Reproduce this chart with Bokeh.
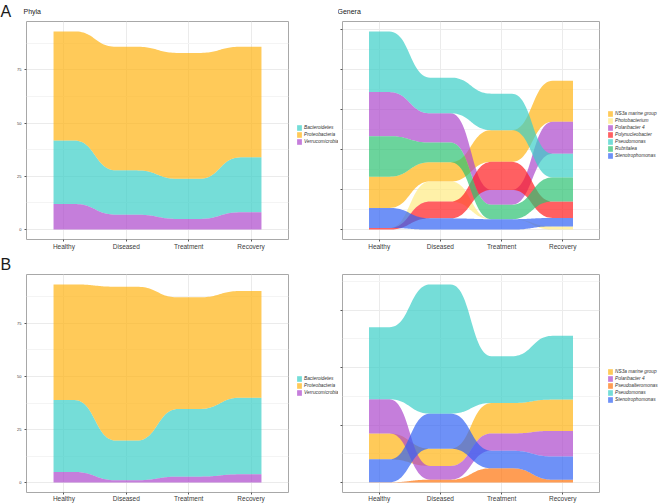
import numpy as np
from bokeh.plotting import figure
from bokeh.models import (Legend, LegendItem, FixedTicker, Range1d, CustomLabelingPolicy)
from bokeh.layouts import row, column
from bokeh.embed import file_html
from bokeh.resources import INLINE

# ---------------- data ----------------
stages = ["Healthy", "Diseased", "Treatment", "Recovery"]

phyla = ["Bacteroidetes", "Proteobacteria", "Verrucomicrobia"]
phyla_stack = ["Verrucomicrobia", "Bacteroidetes", "Proteobacteria"]  # bottom -> top

a_bacteroidetes = [29.8, 20.8, 18.8, 25.8]
a_proteobacteria = [51.2, 58.0, 59.1, 51.9]
a_verrucomicrobia = [12.0, 7.0, 5.0, 8.1]

b_bacteroidetes = [33.9, 18.7, 31.9, 36.1]
b_proteobacteria = [54.5, 72.5, 52.6, 50.3]
b_verrucomicrobia = [5.0, 1.1, 2.8, 3.9]

genera_a = ["NS3a marine group", "Photobacterium", "Polaribacter 4", "Polynucleobacter",
            "Pseudomonas", "Rubritalea", "Stenotrophomonas"]
a_ns3a = [7.8, 4.8, 7.9, 10.2]
a_photobacterium = [0.0, 5.0, 0.0, 0.8]
a_polaribacter = [11.0, 7.3, 3.7, 8.0]
a_polynucleobacter = [0.4, 4.2, 7.0, 4.1]
a_pseudomonas = [15.1, 8.9, 9.1, 5.9]
a_rubritalea = [10.1, 4.9, 3.6, 6.0]
a_stenotrophomonas = [5.0, 2.8, 2.6, 2.1]
a_order = [  # bottom -> top, per stage
    ["Polynucleobacter", "Photobacterium", "Stenotrophomonas", "NS3a marine group", "Rubritalea", "Polaribacter 4", "Pseudomonas"],
    ["Stenotrophomonas", "Polynucleobacter", "Photobacterium", "NS3a marine group", "Rubritalea", "Polaribacter 4", "Pseudomonas"],
    ["Stenotrophomonas", "Photobacterium", "Rubritalea", "Polaribacter 4", "Polynucleobacter", "NS3a marine group", "Pseudomonas"],
    ["Photobacterium", "Stenotrophomonas", "Polynucleobacter", "Rubritalea", "Pseudomonas", "Polaribacter 4", "NS3a marine group"],
]

genera_b = ["NS3a marine group", "Polaribacter 4", "Pseudoalteromonas", "Pseudomonas", "Stenotrophomonas"]
b_ns3a = [9.0, 6.0, 10.6, 10.9]
b_polaribacter = [11.9, 4.8, 6.0, 8.9]
b_pseudoalteromonas = [0.1, 1.0, 5.0, 1.0]
b_pseudomonas = [25.1, 45.0, 16.3, 22.2]
b_stenotrophomonas = [8.0, 12.2, 6.1, 8.1]
b_order = [
    ["Pseudoalteromonas", "Stenotrophomonas", "NS3a marine group", "Polaribacter 4", "Pseudomonas"],
    ["Pseudoalteromonas", "Polaribacter 4", "NS3a marine group", "Stenotrophomonas", "Pseudomonas"],
    ["Pseudoalteromonas", "Stenotrophomonas", "Polaribacter 4", "NS3a marine group", "Pseudomonas"],
    ["Pseudoalteromonas", "Stenotrophomonas", "Polaribacter 4", "NS3a marine group", "Pseudomonas"],
]

colors = {
    "Bacteroidetes": "#3BCEC7", "Proteobacteria": "#FFB313", "Verrucomicrobia": "#AC47CC",
    "NS3a marine group": "#FFB313", "Photobacterium": "#FFEB83", "Polaribacter 4": "#AC47CC",
    "Polynucleobacter": "#FF1D20", "Pseudomonas": "#3BCEC7", "Rubritalea": "#2CC272",
    "Stenotrophomonas": "#3063F4", "Pseudoalteromonas": "#FF740C",
}
ALPHA = 0.7
FONT = "Liberation Sans"
HW = 1 / 6  # half width of the stratum


def stack_from_order(values, order):
    lo = {k: [0.0] * 4 for k in values}
    hi = {k: [0.0] * 4 for k in values}
    for i in range(4):
        base = 0.0
        for k in order[i]:
            lo[k][i] = base
            base += values[k][i]
            hi[k][i] = base
    return lo, hi


def edge(ys):
    xs_out, ys_out = [], []
    t = np.linspace(0, 1, 30)[1:-1]
    for i in range(4):
        x = i + 1
        xs_out += [x - HW, x + HW]
        ys_out += [ys[i], ys[i]]
        if i < 3:
            x0, x1 = x + HW, x + 1 - HW
            d = x1 - x0
            xs_out += list(x0 + d * (1.5 * t * (1 - t) + t ** 3))
            ys_out += list(ys[i] + (ys[i + 1] - ys[i]) * (3 * t ** 2 - 2 * t ** 3))
    return xs_out, ys_out


def band(lo, hi):
    tx, ty = edge(hi)
    bx, by = edge(lo)
    return tx + bx[::-1], ty + by[::-1]


HIDE = CustomLabelingPolicy(code="for (const i of indices) { indices.unset(i) } return indices")


def style_title(p, text, size, offset, standoff):
    p.title.text = text
    p.title.align = "left"
    p.title.offset = offset
    p.title.standoff = standoff
    p.title.vertical_align = "top"
    p.title.text_font = FONT
    p.title.text_font_size = size
    p.title.text_font_style = "normal"
    p.title.text_color = "#1A1A1A"


def make_fig(width, height, fl, ft, fw, fh, yr, yticks, yminor, ylabels, xstandoff,
             title=None, toffset=0):
    p = figure(width=width, height=height, x_range=Range1d(0.4, 4.6), y_range=Range1d(*yr),
               output_backend="svg", toolbar_location=None,
               min_border_left=fl, min_border_top=ft,
               min_border_right=width - fl - fw, min_border_bottom=height - ft - fh)
    if title is not None:
        style_title(p, title, "7px", toffset, 10)
    p.background_fill_color = "white"
    p.border_fill_color = "white"
    p.outline_line_color = "#A8A8A8"
    p.outline_line_width = 1
    p.xaxis.ticker = FixedTicker(ticks=[1, 2, 3, 4])
    p.xaxis.major_label_overrides = {i + 1: s for i, s in enumerate(stages)}
    p.yaxis.ticker = FixedTicker(ticks=yticks, minor_ticks=yminor)
    for ax in (p.xaxis[0], p.yaxis[0]):
        ax.axis_line_color = None
        ax.major_tick_line_color = "#555555"
        ax.major_tick_out = 2
        ax.major_tick_in = 0
        ax.minor_tick_line_color = None
        ax.major_label_text_font = FONT
        ax.major_label_text_color = "#3A3A3A"
    p.xaxis.major_label_text_font_size = "6.5px"
    p.xaxis.major_label_standoff = xstandoff
    p.yaxis.major_label_standoff = 1
    if ylabels:
        p.yaxis.major_label_text_font_size = "4px"
    else:
        p.yaxis.major_label_text_font_size = "0px"
        p.yaxis.major_label_standoff = 0
        p.yaxis.major_label_policy = HIDE
    p.xgrid.ticker = FixedTicker(ticks=[1, 2, 3, 4])
    p.ygrid.ticker = FixedTicker(ticks=yticks, minor_ticks=yminor)
    p.xgrid.grid_line_color = "#EBEBEB"
    p.ygrid.grid_line_color = "#EBEBEB"
    p.ygrid.minor_grid_line_color = "#F4F4F4"
    return p


def draw_bands(p, vals, order, names):
    lo, hi = stack_from_order(vals, order)
    for k in names:
        xs, ys = band(lo[k], hi[k])
        p.patch(xs, ys, fill_color=colors[k], fill_alpha=ALPHA, line_color=None)


def blank_fig(width, height):
    f = figure(width=width, height=height, x_range=Range1d(0, 1), y_range=Range1d(0, 1),
               output_backend="svg", toolbar_location=None,
               x_axis_location=None, y_axis_location=None,
               min_border=0, min_border_left=0, min_border_right=0,
               min_border_top=0, min_border_bottom=0)
    f.outline_line_color = None
    f.xgrid.visible = False
    f.ygrid.visible = False
    f.background_fill_color = "white"
    f.border_fill_color = "white"
    return f


def letter_fig(height, text):
    f = blank_fig(14, height)
    style_title(f, text, "16px", 0, 0)
    return f


def legend_fig(width, height, names, loc):
    f = blank_fig(width, height)
    items = []
    for n in names:
        # legend-key carrier, kept outside the visible range
        r = f.patch(x=[-3, -2, -2], y=[-3, -3, -2], fill_color=colors[n], fill_alpha=ALPHA,
                    line_color=None)
        items.append(LegendItem(label=n, renderers=[r]))
    leg = Legend(items=items, location=loc, glyph_width=6, glyph_height=7, label_height=7,
                 spacing=0, padding=0, margin=0, label_standoff=2,
                 border_line_color=None, background_fill_alpha=0,
                 label_text_font=FONT, label_text_font_size="4.8px",
                 label_text_font_style="italic", label_text_color="#333333")
    f.add_layout(leg)
    return f


# ---------------- panel A ----------------
fA = letter_fig(254, "A")
pAL = make_fig(275, 254, 10, 21, 264, 218, (-4.65, 97.65), [0, 25, 50, 75],
               [12.5, 37.5, 62.5, 87.5], True, 1, "Phyla", -3)
draw_bands(pAL, {"Bacteroidetes": a_bacteroidetes, "Proteobacteria": a_proteobacteria,
                 "Verrucomicrobia": a_verrucomicrobia}, [phyla_stack] * 4, phyla)
lAL = legend_fig(49, 254, phyla, (7, 94))

pAR = make_fig(262, 254, 3, 21, 258, 218, (-2.47, 51.9), [0, 10, 20, 30, 40, 50],
               [5, 15, 25, 35, 45], False, 1, "Genera", -5)
draw_bands(pAR, {"NS3a marine group": a_ns3a, "Photobacterium": a_photobacterium,
                 "Polaribacter 4": a_polaribacter, "Polynucleobacter": a_polynucleobacter,
                 "Pseudomonas": a_pseudomonas, "Rubritalea": a_rubritalea,
                 "Stenotrophomonas": a_stenotrophomonas}, a_order, genera_a)
lAR = legend_fig(58, 254, genera_a, (7, 80))

# ---------------- panel B ----------------
fB = letter_fig(250, "B")
pBL = make_fig(275, 250, 10, 20, 264, 220, (-4.67, 98.07), [0, 25, 50, 75],
               [12.5, 37.5, 62.5, 87.5], True, 0)
draw_bands(pBL, {"Bacteroidetes": b_bacteroidetes, "Proteobacteria": b_proteobacteria,
                 "Verrucomicrobia": b_verrucomicrobia}, [phyla_stack] * 4, phyla)
lBL = legend_fig(49, 250, phyla, (7, 96))

pBR = make_fig(262, 250, 3, 20, 258, 220, (-3.45, 72.45), [0, 20, 40, 60],
               [10, 30, 50, 70], False, 0)
draw_bands(pBR, {"NS3a marine group": b_ns3a, "Polaribacter 4": b_polaribacter,
                 "Pseudoalteromonas": b_pseudoalteromonas, "Pseudomonas": b_pseudomonas,
                 "Stenotrophomonas": b_stenotrophomonas}, b_order, genera_b)
lBR = legend_fig(58, 250, genera_b, (7, 89))

layout = column(row(fA, pAL, lAL, pAR, lAR, spacing=0),
                row(fB, pBL, lBL, pBR, lBR, spacing=0), spacing=0)
open("out.html", "w").write(file_html(layout, INLINE))
